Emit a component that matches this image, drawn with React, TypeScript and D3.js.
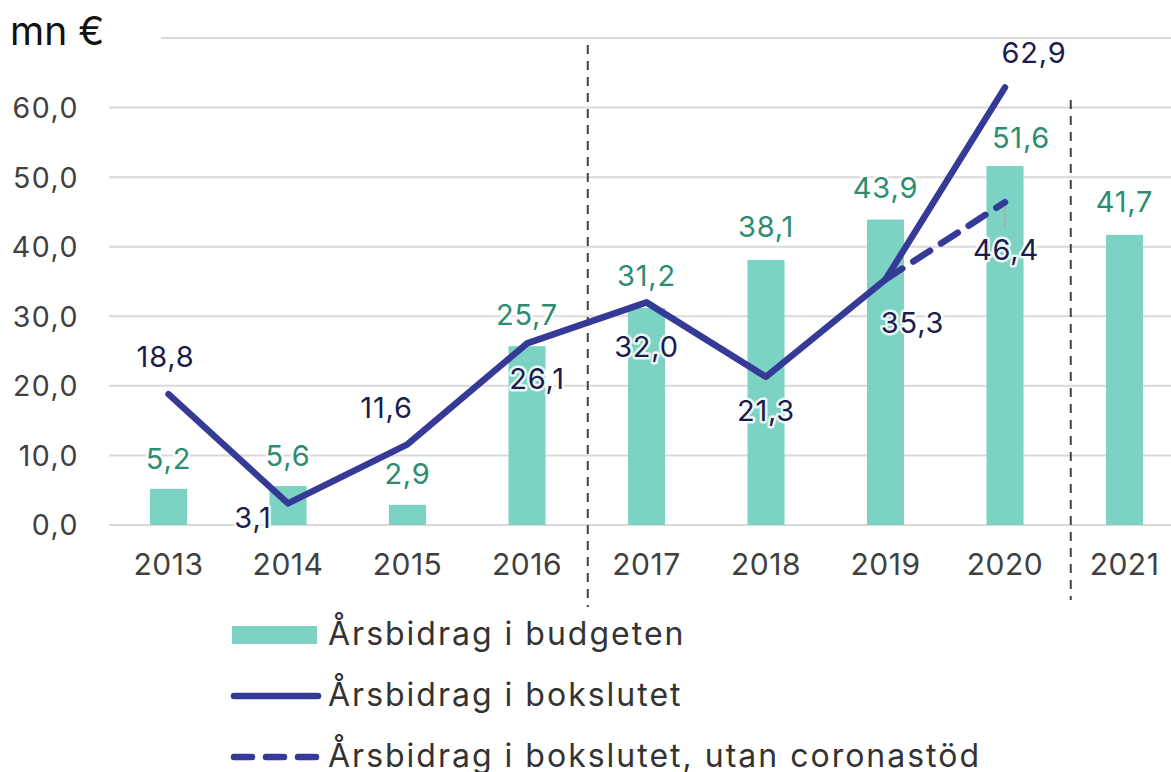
import React from "react";
import * as d3 from "d3";

const years = ["2013", "2014", "2015", "2016", "2017", "2018", "2019", "2020", "2021"];
const budget = [5.2, 5.6, 2.9, 25.7, 31.2, 38.1, 43.9, 51.6, 41.7];
const bokslut = [18.8, 3.1, 11.6, 26.1, 32.0, 21.3, 35.3, 62.9];
const utanYears = ["2019", "2020"];
const utan = [35.3, 46.4];
const yTicks = [0, 10, 20, 30, 40, 50, 60, 70];
const legendLabels = ["Årsbidrag i budgeten", "Årsbidrag i bokslutet", "Årsbidrag i bokslutet, utan coronastöd"];

// label placement offsets (label centre relative to the mark), layout only
const bokslutLabelOffsets: [number, number][] = [
  [-3, -38], [-35, 14], [-21, -37], [10, 35], [0, 44], [0, 34], [27, 43], [29, -35],
];
const budgetLabelOffsets: [number, number][] = [
  [0, -30], [0, -31], [0, -31], [0, -32], [0, -32], [0, -33], [0, -32], [16, -29], [0, -33],
];
const utanLabelOffset: [number, number] = [1, 47];

const W = 1171, H = 772;
const FONT = "Inter, 'DejaVu Sans', sans-serif";
const LFS = 29; // data label size

const fmt = (v: number) => v.toFixed(1).replace(".", ",");

export default function App() {
  const x = d3.scaleBand<string>().domain(years).range([108.75, 108.75 + 119.5 * 9]).paddingInner(0.69).paddingOuter(0.345);
  const xc = (yr: string) => (x(yr) as number) + x.bandwidth() / 2;
  const y = d3.scaleLinear().domain([0, 70]).range([525, 38]);

  const line = d3.line<number>().x((_, i) => xc(years[i])).y((v) => y(v));
  const line2 = d3.line<number>().x((_, i) => xc(utanYears[i])).y((v) => y(v));

  const div1 = xc("2016") + 119.5 / 2 + 1;
  const div2 = xc("2020") + 119.5 / 2 + 6;

  const halo = { paintOrder: "stroke", stroke: "white", strokeWidth: 5, strokeLinejoin: "round" as const, strokeOpacity: 0.85 };
  const base = (cy: number, fs: number) => cy + fs * 0.364;

  return (
    <svg width={W} height={H} style={{ position: "absolute", left: 0, top: 0, background: "white" }} fontFamily={FONT}>
      <rect x={0} y={0} width={W} height={H} fill="white" />
      {/* gridlines */}
      {yTicks.map((t) => (
        <line key={t} x1={t === 70 ? 161 : 109} x2={W} y1={y(t)} y2={y(t)} stroke="#d9d9d9" strokeWidth={2} />
      ))}
      {/* y tick labels */}
      {yTicks.filter((t) => t < 70).map((t) => (
        <text key={t} x={79} y={base(y(t), 28.5)} textAnchor="end" fontSize={28.5} letterSpacing={1.5} fill="#404040">{fmt(t)}</text>
      ))}
      <text x={10} y={45} fontSize={39} fill="#111">mn €</text>
      {/* bars */}
      {budget.map((v, i) => (
        <rect key={i} x={x(years[i])} y={y(v)} width={x.bandwidth()} height={y(0) - y(v)} fill="#7dd3c3" />
      ))}
      {/* bar labels */}
      {budget.map((v, i) => (
        <text key={i} x={xc(years[i]) + budgetLabelOffsets[i][0]} y={base(y(v) + budgetLabelOffsets[i][1], LFS)} textAnchor="middle" fontSize={LFS} letterSpacing={0.8} fill="#2b8c72" style={halo}>{fmt(v)}</text>
      ))}
      {/* x labels */}
      {years.map((yr) => (
        <text key={yr} x={xc(yr)} y={base(564.5, 30)} textAnchor="middle" fontSize={30} letterSpacing={0.5} fill="#404040">{yr}</text>
      ))}
      {/* dividers */}
      <line x1={div1} x2={div1} y1={45} y2={607} stroke="#404040" strokeWidth={2} strokeDasharray="9 7" />
      <line x1={div2} x2={div2} y1={100} y2={600} stroke="#404040" strokeWidth={2} strokeDasharray="9 7" />
      {/* lines */}
      <path d={line(bokslut) as string} fill="none" stroke="#363a97" strokeWidth={6.5} strokeLinejoin="round" strokeLinecap="round" />
      <path d={line2(utan) as string} fill="none" stroke="#363a97" strokeWidth={6.5} strokeDasharray="20 13" strokeLinecap="round" />
      <line x1={xc("2020")} x2={xc("2020")} y1={y(46.4) + 4} y2={y(46.4) + 25} stroke="#aaa" strokeWidth={1.5} />
      {/* line labels */}
      {bokslut.map((v, i) => (
        <text key={i} x={xc(years[i]) + bokslutLabelOffsets[i][0]} y={base(y(v) + bokslutLabelOffsets[i][1], LFS)} textAnchor="middle" fontSize={LFS} letterSpacing={0.8} fill="#1c1c4e" style={halo}>{fmt(v)}</text>
      ))}
      <text x={xc("2020") + utanLabelOffset[0]} y={base(y(46.4) + utanLabelOffset[1], LFS)} textAnchor="middle" fontSize={LFS} letterSpacing={0.8} fill="#1c1c4e" style={halo}>{fmt(utan[1])}</text>
      {/* legend */}
      <rect x={232} y={626} width={85} height={18} fill="#7dd3c3" />
      <text x={328} y={645} fontSize={32} letterSpacing={2} fill="#333">{legendLabels[0]}</text>
      <line x1={234} x2={318} y1={696} y2={696} stroke="#363a97" strokeWidth={6.5} strokeLinecap="round" />
      <text x={328} y={706} fontSize={32} letterSpacing={2} fill="#333">{legendLabels[1]}</text>
      <line x1={234} x2={318} y1={757} y2={757} stroke="#363a97" strokeWidth={6.5} strokeLinecap="round" strokeDasharray="18 14" />
      <text x={328} y={767} fontSize={32} letterSpacing={2} fill="#333">{legendLabels[2]}</text>
    </svg>
  );
}
